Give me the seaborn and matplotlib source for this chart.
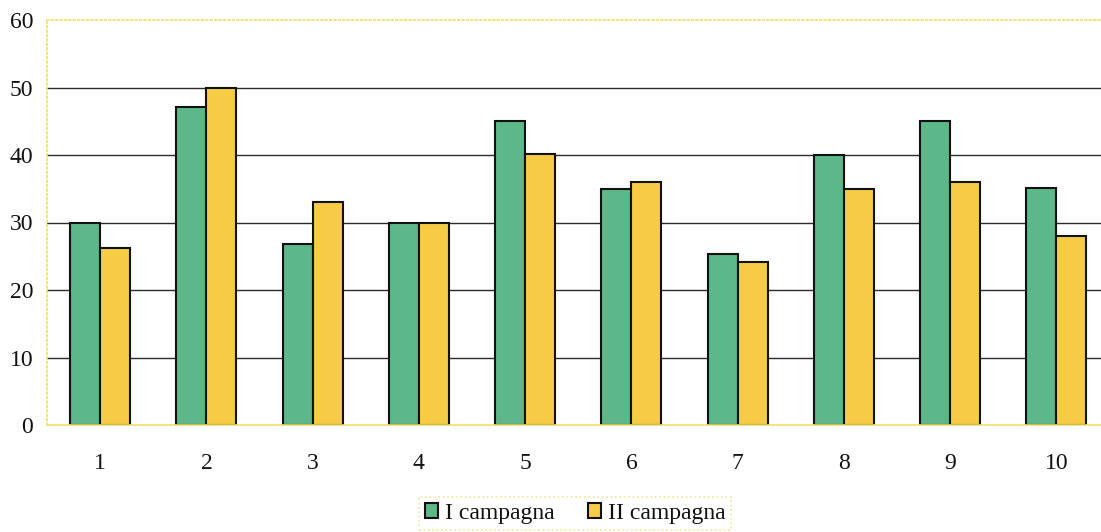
import pandas as pd
import matplotlib.pyplot as plt
import numpy as np
import seaborn as sns

# dati
punti = ['1', '2', '3', '4', '5', '6', '7', '8', '9', '10']
camp_1 = [30.0, 47.1, 26.8, 30.0, 45.0, 35.0, 25.3, 40.0, 45.1, 35.1]
camp_2 = [26.2, 50.0, 33.1, 30.0, 40.2, 36.0, 24.2, 35.0, 36.0, 28.0]
serie = ['I campagna', 'II campagna']
colori = ['#5cb888', '#f6cc46']

df = pd.DataFrame({
    'punto': punti * 2,
    'valore': camp_1 + camp_2,
    'serie': [serie[0]] * len(punti) + [serie[1]] * len(punti),
})

sns.set_style('white')
plt.rcParams['font.family'] = ['Liberation Serif', 'DejaVu Serif']

fig = plt.figure(figsize=(11.01, 5.32), dpi=100)
ax = fig.add_axes([47 / 1101, 107 / 532, 1 - 47 / 1101, 405 / 532])

sns.barplot(data=df, x='punto', y='valore', hue='serie', palette=colori,
            width=0.565, edgecolor='#111111', linewidth=1.5, saturation=1,
            ax=ax, legend=True)

ax.set_ylim(0, 60)
ax.set_xlim(-0.5, 9.42)
ax.set_yticks(np.arange(0, 61, 10))
ax.set_xlabel('')
ax.set_ylabel('')

ax.set_axisbelow(True)
ax.yaxis.grid(True, color='#2a2a2a', linewidth=1.0)
gl = ax.get_ygridlines()
gl[0].set_visible(False)
gl[-1].set_visible(False)

for s in ['left', 'top']:
    ax.spines[s].set_color('#f0e060')
    ax.spines[s].set_linestyle(':')
    ax.spines[s].set_linewidth(1.2)
ax.spines['bottom'].set_color('#f0e070')
ax.spines['bottom'].set_linewidth(1.2)
ax.spines['right'].set_visible(False)

ax.tick_params(axis='y', length=0, pad=10, labelsize=17, labelcolor='#111111')
ax.tick_params(axis='x', length=0, pad=20, labelsize=17, labelcolor='#111111')
ax.set_xticks(np.arange(0.5, 9.5, 1), minor=True)
ax.tick_params(axis='x', which='minor', length=5, color='#e8d890', width=1)

ax.legend_.remove()
handles = [plt.Rectangle((0, 0), 1, 1, facecolor=c, edgecolor='#111111', linewidth=1.5)
           for c in colori]
leg = fig.legend(handles, serie, loc='upper center', ncol=2,
                 bbox_to_anchor=(575 / 1101, 1 - 497 / 532),
                 fontsize=17, frameon=True, fancybox=False, borderaxespad=0,
                 handlelength=0.55, handleheight=0.55, handletextpad=0.3,
                 columnspacing=1.4, borderpad=0.25)
leg.get_frame().set_edgecolor('#f0e080')
leg.get_frame().set_linestyle(':')
leg.get_frame().set_linewidth(1.2)
for t in leg.get_texts():
    t.set_color('#111111')

fig.savefig('out.png', dpi=100)
